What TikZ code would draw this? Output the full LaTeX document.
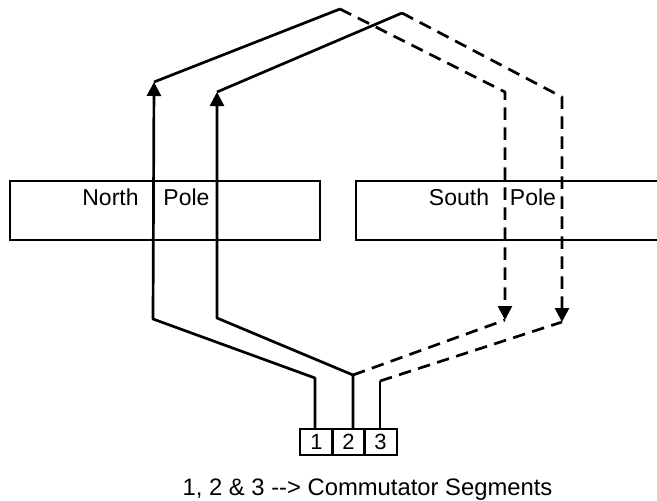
\documentclass[tikz,border=0pt]{standalone}
\usepackage{fontspec}
\setmainfont{Liberation Sans}
\usetikzlibrary{arrows.meta}
\tikzset{
    fil/.style={line width=2.7pt, line join=round},
    filpointille/.style={fil, dash pattern=on 12.5pt off 7.5pt},
    fleche/.style={-{Triangle[width=14pt,length=14pt]}},
    pole/.style={draw, line width=2.4pt, minimum width=310pt, minimum height=59pt, inner sep=0pt},
    texte/.style={font=\fontsize{23}{27}\selectfont, inner sep=0pt, anchor=base},
    segment/.style={draw, line width=2.2pt, minimum width=32.5pt, minimum height=26pt, inner sep=0pt, font=\fontsize{22}{26}\selectfont}
}
\begin{document}
\begin{tikzpicture}[x=1pt, y=-1pt]

            \useasboundingbox (0,0) rectangle (657,501);

            % Pôle nord
            \node[pole] (nord) at (165,210.5) {};
            \node[texte] (nordA) at (110.5,205) {North};
            \node[texte] (nordB) at (186.5,205) {Pole};

            % Pôle sud, ouvert à droite
            \draw[line width=2.4pt] (657,181) -- (356,181) -- (356,240) -- (657,240);
            \node[texte] (sudA) at (459,205) {South};
            \node[texte] (sudB) at (533,205) {Pole};

            % Segments du collecteur
            \foreach \i/\x in {1/316.5,2/348.5,3/380.5} {
                \node[segment] (s\i) at (\x,442) {\i};
            }

            % Coudes des deux spires
            \coordinate (a1) at (315,378);
            \coordinate (a2) at (153,319);
            \coordinate (a3) at (154,82);
            \coordinate (a4) at (340,9);
            \coordinate (a5) at (505,92);
            \coordinate (a6) at (505,320);
            \coordinate (b1) at (353,375);
            \coordinate (b2) at (217,318);
            \coordinate (b3) at (217,92);
            \coordinate (b4) at (402,13);
            \coordinate (b5) at (562,97);
            \coordinate (b6) at (562,322);
            \coordinate (b7) at (380,381);

            % Spire 1
            \draw[fil, fleche] (s1.north -| a1) -- (a1) -- (a2) -- (a3);
            \draw[fil] (a3) -- (a4);
            \draw[filpointille, fleche] (a4) -- (a5) -- (a6);
            \draw[filpointille] (b1) -- (a6);

            % Spire 2
            \draw[fil, fleche] (s2.north -| b1) -- (b1) -- (b2) -- (b3);
            \draw[fil] (b3) -- (b4);
            \draw[filpointille, fleche] (b4) -- (b5) -- (b6);
            \draw[filpointille] (b7) -- (b6);
            \draw[fil] (b7) -- (s3.north -| b7);

            % Légende
            \node[texte, font=\fontsize{23.8}{28}\selectfont] (legende) at (367.5,495) {1, 2 \& 3 {-}{-}> Commutator Segments};

\end{tikzpicture}
\end{document}
